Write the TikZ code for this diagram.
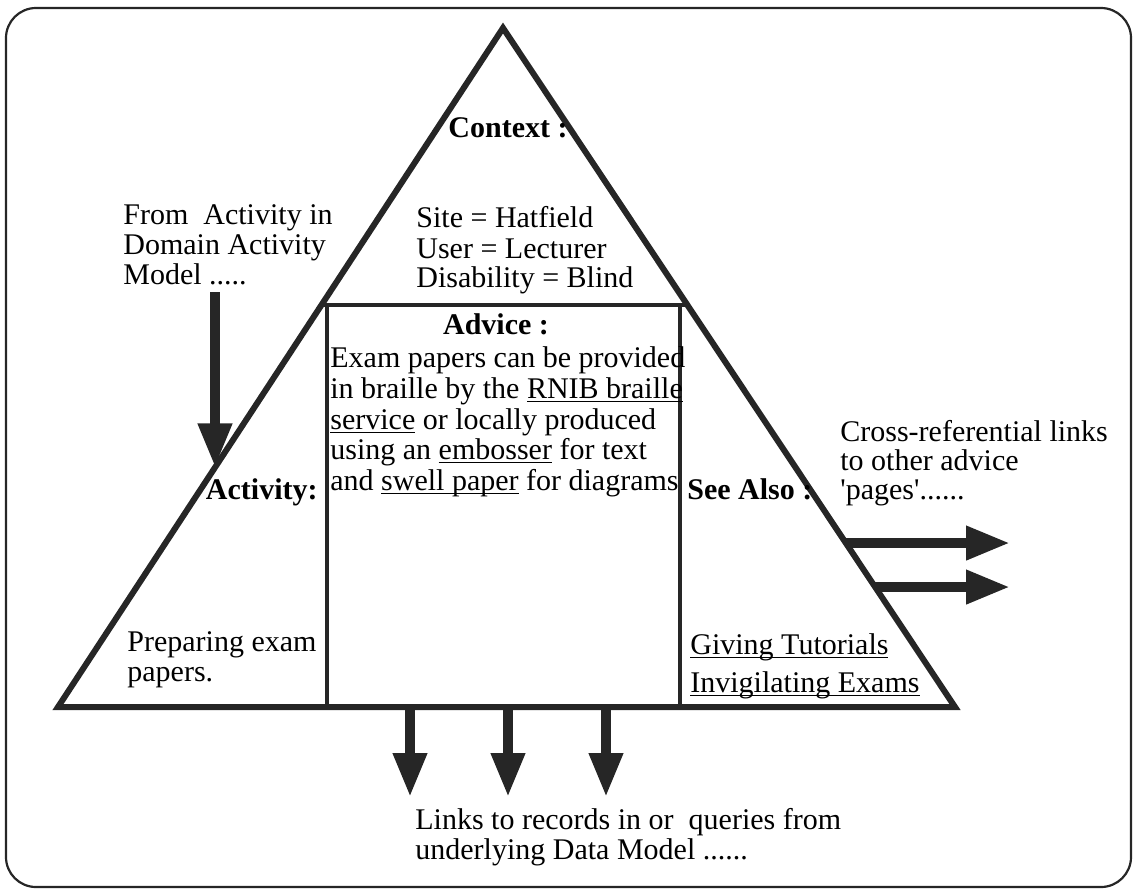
\documentclass[tikz,border=0pt]{standalone}
\usepackage{fontspec}
\setmainfont{Liberation Serif}
\usetikzlibrary{arrows.meta,calc}
\newcommand\myul[1]{\setbox0\hbox{#1}\rlap{\rule[-1.8pt]{\wd0}{0.5pt}}\box0\relax}
\begin{document}
\begin{tikzpicture}[x=0.5pt,y=-0.5pt,
  frame/.style={draw=black!85, line width=1.1pt, rounded corners=15pt},
  tri/.style={draw=black!85, line width=3pt, line join=miter},
  boxline/.style={draw=black!85, line width=2pt},
  bigarrow/.style={draw=black!85, line width=5pt, -{Triangle[width=16pt,length=22pt]}},
  txt/.style={font=\fontsize{15}{15}\selectfont, inner sep=0pt, anchor=base west},
  hdr/.style={font=\fontsize{15}{15}\selectfont\bfseries, inner sep=0pt}
]
\useasboundingbox (0,0) rectangle (1136,890);
% frame
\draw[frame] (6,8) rectangle (1131,887);
% triangle
\coordinate (apex) at (503,28);
\coordinate (L) at (58,707);
\coordinate (R) at (955,707);
\draw[tri] (apex) -- (L) -- (R) -- cycle;
% advice box
\coordinate (tl) at ($(apex)!0.408!(L)$);
\coordinate (tr) at ($(apex)!0.408!(R)$);
\coordinate (bl) at (327,707);
\coordinate (br) at (680,707);
\draw[boxline] (tl) -- (tr);
\draw[boxline] (bl) -- (bl |- tl);
\draw[boxline] (br) -- (br |- tr);
% left arrow
\coordinate (la1) at ($(apex)!0.6472!(L)$);
\coordinate (ly) at (0,292);
\coordinate (la0) at (la1 |- ly);
\draw[bigarrow] (la0) -- (la1);
% right arrows
\coordinate (rx) at (1010,0);
\coordinate (ra1s) at ($(apex)!0.7585!(R)$);
\coordinate (ra2s) at ($(apex)!0.8233!(R)$);
\coordinate (ra1e) at (ra1s -| rx);
\coordinate (ra2e) at (ra2s -| rx);
\draw[bigarrow] (ra1s) -- (ra1e);
\draw[bigarrow] (ra2s) -- (ra2e);
% bottom arrows
\coordinate (b1s) at (410,707); \coordinate (b1e) at (410,797);
\coordinate (b2s) at (508,707); \coordinate (b2e) at (508,797);
\coordinate (b3s) at (606,707); \coordinate (b3e) at (606,797);
\draw[bigarrow] (b1s) -- (b1e);
\draw[bigarrow] (b2s) -- (b2e);
\draw[bigarrow] (b3s) -- (b3e);
% texts
\node[hdr, anchor=base] (context) at (508,137) {Context :};
\node[txt] (site) at (416,227) {Site = Hatfield};
\node[txt] (user) at (416,258) {User = Lecturer};
\node[txt] (dis) at (416,287) {Disability = Blind};
\node[txt] (from1) at (123,224) {From\ \ Activity in};
\node[txt] (from2) at (123,254) {Domain Activity};
\node[txt] (from3) at (123,284) {Model .....};
\node[hdr, anchor=base] (advice) at (496,334) {Advice :};
\node[txt] (adv1) at (330,367) {Exam papers can be provided};
\node[txt] (adv2) at (330,398) {in braille by the \myul{RNIB braille}};
\node[txt] (adv3) at (330,429) {\myul{service} or locally produced};
\node[txt] (adv4) at (330,459) {using an \myul{embosser} for text};
\node[txt] (adv5) at (330,490) {and \myul{swell paper} for diagrams};
\node[hdr, anchor=base east] (activity) at (318,499) {Activity:};
\node[hdr, anchor=base west] (seealso) at (687,499) {See Also :};
\node[txt] (cr1) at (840,441) {Cross-referential links};
\node[txt] (cr2) at (840,470) {to other advice};
\node[txt] (cr3) at (840,499) {\textquotesingle pages\textquotesingle......};
\node[txt] (prep1) at (127,651) {Preparing exam};
\node[txt] (prep2) at (127,681) {papers.};
\node[txt] (giving) at (690,654) {\myul{Giving Tutorials}};
\node[txt] (invig) at (690,692) {\myul{Invigilating Exams}};
\node[txt] (links1) at (415,829) {Links to records in or\ \ queries from};
\node[txt] (links2) at (415,859) {underlying Data Model ......};
\end{tikzpicture}
\end{document}
